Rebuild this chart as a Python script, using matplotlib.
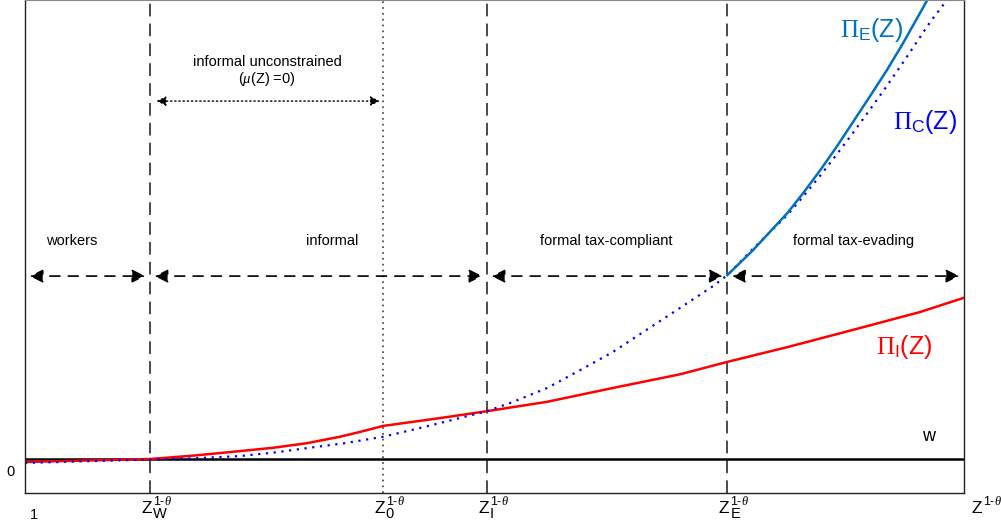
import numpy as np
import matplotlib.pyplot as plt

plt.rcParams['font.family'] = ['Liberation Sans', 'DejaVu Sans']
plt.rcParams['mathtext.fontset'] = 'custom'
plt.rcParams['mathtext.rm'] = 'Liberation Sans'
plt.rcParams['mathtext.it'] = 'Liberation Serif:italic'
plt.rcParams['mathtext.cal'] = 'Liberation Serif'
plt.rcParams['mathtext.bf'] = 'Liberation Sans:bold'

# thresholds on the Z^(1-theta) axis
z_w, z_0, z_i, z_e = 13.3, 38.1, 49.2, 74.8
thresholds = [z_w, z_0, z_i, z_e]
threshold_subs = ['W', '0', 'I', 'E']
w_level = 6.9

# informal profits
x_inf = [0, 13.3, 18.0, 22.9, 26.5, 30.0, 33.5, 35.8, 38.1, 44.2, 49.2, 55.6,
         62.6, 69.8, 74.8, 81.2, 88.2, 95.3, 100]
y_inf = [6.3, 6.9, 7.6, 8.5, 9.2, 10.1, 11.4, 12.45, 13.6, 15.2, 16.6, 18.5,
         21.3, 24.1, 26.6, 29.6, 33.1, 36.7, 39.6]

# formal tax-compliant profits
x_comp = [0, 13.3, 18.0, 22.9, 26.5, 30.0, 34.0, 38.1, 41.0, 44.2, 46.7, 49.2,
          52.0, 55.6, 59.1, 62.6, 66.2, 69.8, 73.3, 74.8, 77.5, 81.2, 82.9,
          84.7, 86.5, 88.2, 90.0, 91.8, 93.5, 95.3, 96.5, 98.2]
y_comp = [6.1, 6.8, 7.05, 7.5, 8.2, 9.1, 10.1, 11.4, 12.7, 14.2, 15.4, 16.6,
          18.5, 21.3, 24.9, 28.6, 33.1, 37.6, 42.0, 44.2, 49.5, 56.4, 60.2,
          64.4, 68.8, 73.1, 77.8, 82.6, 87.3, 92.4, 95.8, 100]

# formal tax-evading profits
x_ev = [74.8, 77.5, 81.2, 82.9, 84.7, 86.5, 88.2, 90.0, 91.8, 93.5, 96.1]
y_ev = [44.2, 49.2, 56.8, 60.9, 65.5, 70.4, 75.3, 80.5, 85.8, 91.2, 100]

regions = ['workers', 'informal', 'formal tax-compliant', 'formal tax-evading']
bounds = [0, z_w, z_i, z_e, 100]
label_x = [5.0, 32.7, 61.9, 88.2]

fig = plt.figure(figsize=(10.01, 5.29), dpi=100)
ax = fig.add_axes([0.025, 0.068, 0.938, 0.932])

gray = '#3c3c3c'
for zx in [z_w, z_i, z_e]:
    ax.axvline(zx, color=gray, lw=1.3, ls=(0, (7, 4)))
ax.axvline(z_0, color=gray, lw=1.2, ls=(0, (1, 2.5)))

ax.axhline(w_level, color='black', lw=1.8)
ax.plot(x_inf, y_inf, color='red', lw=1.8)
ax.plot(x_comp, y_comp, color='blue', lw=1.6, ls=(0, (1, 2.5)))
ax.plot(x_ev, y_ev, color='#0072BD', lw=1.8)

arrow_y = 44.0
for i, name in enumerate(regions):
    ax.annotate('', xy=(bounds[i + 1] - 0.5, arrow_y), xytext=(bounds[i] + 0.5, arrow_y),
                arrowprops=dict(arrowstyle='<|-|>', color='black', lw=1.2,
                                ls=(0, (6, 5)), mutation_scale=20,
                                shrinkA=0, shrinkB=0))
    ax.text(label_x[i], 51.2, name, ha='center', va='center', fontsize=10.5)

ax.annotate('', xy=(z_0 - 0.3, 79.5), xytext=(z_w + 0.7, 79.5),
            arrowprops=dict(arrowstyle='<|-|>', color='black', lw=1.0,
                            ls=(0, (1, 2)), mutation_scale=14,
                            shrinkA=0, shrinkB=0))
ax.text(25.8, 87.4, 'informal unconstrained', ha='center', va='center', fontsize=10.5)
ax.text(25.7, 84.0, r'($\mu$(Z) =0)', ha='center', va='center', fontsize=10.5)

ax.text(90.1, 94.0, r'$\mathcal{\Pi}_{\mathrm{E}}$(Z)', color='#0072BD', ha='center',
        va='center', fontsize=18)
ax.text(95.8, 75.3, r'$\mathcal{\Pi}_{\mathrm{C}}$(Z)', color='blue', ha='center',
        va='center', fontsize=18)
ax.text(93.6, 29.6, r'$\mathcal{\Pi}_{\mathrm{I}}$(Z)', color='red', ha='center',
        va='center', fontsize=18)
ax.text(96.2, 11.4, 'w', ha='center', va='center', fontsize=13)

ax.set_xlim(0, 100)
ax.set_ylim(0, 100)
ax.set_xticks([])
ax.set_yticks([])


def z_label(x, sub):
    # Z with exponent 1-theta and a subscript, hung below the bottom axis
    kw = dict(xycoords=('data', 'axes fraction'), textcoords='offset pixels',
              va='baseline', annotation_clip=False)
    ax.annotate('Z', xy=(x, 0), xytext=(2, -20), ha='right', fontsize=12.5, **kw)
    ax.annotate(r'1-$\theta$', xy=(x, 0), xytext=(3, -12), ha='left', fontsize=9, **kw)
    if sub:
        ax.annotate(sub, xy=(x, 0), xytext=(3, -25), ha='left', fontsize=10.5, **kw)


for zx, sub in zip(thresholds, threshold_subs):
    z_label(zx, sub)
z_label(101.7, '')

ax.annotate('1', xy=(0, 0), xycoords='axes fraction', xytext=(5, -26),
            textcoords='offset pixels', ha='left', va='baseline', fontsize=10.5)
ax.text(-1.1, 3.4, '0', ha='right', va='baseline', fontsize=10.5)

for side in ['left', 'right', 'bottom']:
    ax.spines[side].set_color('#222222')
    ax.spines[side].set_linewidth(1.0)
ax.spines['top'].set_color('#888888')

fig.savefig('out.png', dpi=100)
